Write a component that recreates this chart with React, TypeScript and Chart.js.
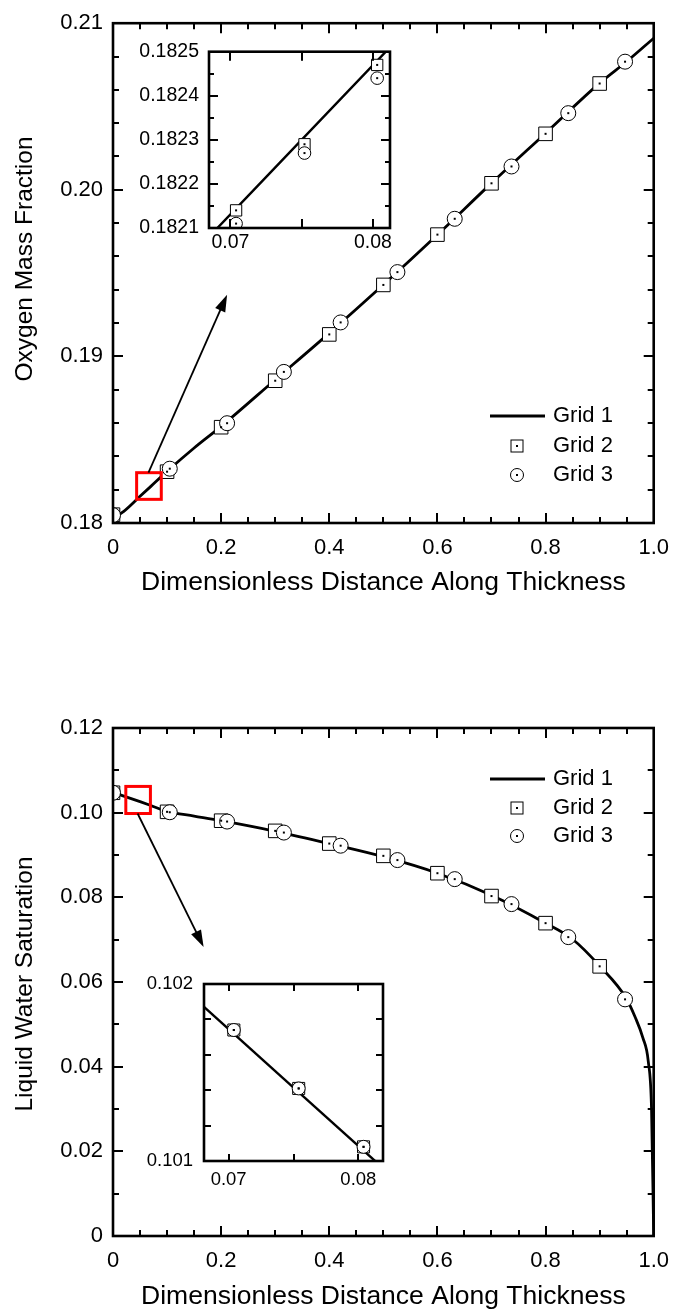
import React, { useEffect, useRef } from 'react';
import { Chart, registerables } from 'chart.js';
Chart.register(...registerables);

const FONT = "'Liberation Sans', Arial, sans-serif";

// ---------------- Data: Oxygen mass fraction (top) ----------------
const o2LineX = [0, 0.02, 0.05, 0.07, 0.1, 0.15, 0.2, 0.3, 0.4, 0.5, 0.6, 0.7, 0.8, 0.9, 0.95, 1.0];
const o2LineY = [0.1803, 0.1807, 0.1816, 0.1822, 0.1831, 0.1845, 0.1858, 0.1886, 0.1914, 0.1943, 0.1973, 0.2004, 0.2034, 0.2064, 0.2077, 0.2091];
const o2Grid2X = [0, 0.1, 0.2, 0.3, 0.4, 0.5, 0.6, 0.7, 0.8, 0.9];
const o2Grid2Y = [0.1805, 0.18308, 0.18575, 0.18854, 0.19132, 0.19429, 0.19731, 0.20039, 0.20336, 0.20638];
const o2Grid3X = [0, 0.105, 0.211, 0.316, 0.421, 0.526, 0.632, 0.737, 0.842, 0.947];
const o2Grid3Y = [0.18047, 0.18326, 0.18599, 0.18907, 0.19204, 0.19506, 0.19826, 0.2014, 0.2046, 0.20769];

// inset (top)
const o2InsetLineX = [0.0685, 0.0812];
const o2InsetLineY = [0.18208, 0.18251];
const o2InsetX = [0.0704, 0.0752, 0.0803];
const o2InsetGrid2Y = [0.18214, 0.18229, 0.18247];
const o2InsetGrid3Y = [0.18211, 0.18227, 0.18244];

// ---------------- Data: Liquid water saturation (bottom) ----------------
const lwLineX = [0, 0.02, 0.05, 0.07, 0.1, 0.15, 0.2, 0.3, 0.4, 0.5, 0.6, 0.7, 0.8, 0.85, 0.9, 0.95, 0.965, 0.98, 0.99, 0.996, 1.0];
const lwLineY = [0.1048, 0.1039, 0.1026, 0.1017, 0.1003, 0.0992, 0.0981, 0.0956, 0.0927, 0.0896, 0.0857, 0.0805, 0.0739, 0.0701, 0.0638, 0.056, 0.0519, 0.0468, 0.0412, 0.03, 0.0];
const lwGrid2X = [0, 0.1, 0.2, 0.3, 0.4, 0.5, 0.6, 0.7, 0.8, 0.9];
const lwGrid2Y = [0.1047, 0.1002, 0.0981, 0.0957, 0.0927, 0.0898, 0.0857, 0.0803, 0.0739, 0.0637];
const lwGrid3X = [0, 0.105, 0.211, 0.316, 0.421, 0.526, 0.632, 0.737, 0.842, 0.947];
const lwGrid3Y = [0.1047, 0.1001, 0.0979, 0.0953, 0.0922, 0.0888, 0.0843, 0.0784, 0.0706, 0.0559];

// inset (bottom)
const lwInsetLineX = [0.0681, 0.0819];
const lwInsetLineY = [0.10187, 0.10096];
const lwInsetX = [0.0704, 0.0754, 0.0804];
const lwInsetGrid2Y = [0.10174, 0.10141, 0.10108];
const lwInsetGrid3Y = [0.10174, 0.10141, 0.10108];

// ---------------- Ticks ----------------
const mainXMajor = [0, 0.2, 0.4, 0.6, 0.8, 1.0];
const mainXLabels = ['0', '0.2', '0.4', '0.6', '0.8', '1.0'];
const mainXMinor = [0.05, 0.1, 0.15, 0.25, 0.3, 0.35, 0.45, 0.5, 0.55, 0.65, 0.7, 0.75, 0.85, 0.9, 0.95];

const o2YMajor = [0.18, 0.19, 0.2, 0.21];
const o2YLabels = ['0.18', '0.19', '0.20', '0.21'];
const o2YMinor = [0.182, 0.184, 0.186, 0.188, 0.192, 0.194, 0.196, 0.198, 0.202, 0.204, 0.206, 0.208];

const lwYMajor = [0, 0.02, 0.04, 0.06, 0.08, 0.1, 0.12];
const lwYLabels = ['0', '0.02', '0.04', '0.06', '0.08', '0.10', '0.12'];
const lwYMinor = [0.01, 0.03, 0.05, 0.07, 0.09, 0.11];

const insetXMajor = [0.07, 0.08];
const insetXLabels = ['0.07', '0.08'];
const insetXMinor = [0.075];

const o2InsetYMajor = [0.1821, 0.1822, 0.1823, 0.1824, 0.1825];
const o2InsetYLabels = ['0.1821', '0.1822', '0.1823', '0.1824', '0.1825'];
const o2InsetYMinor = [0.18215, 0.18225, 0.18235, 0.18245];

const lwInsetYMajor = [0.101, 0.102];
const lwInsetYLabels = ['0.101', '0.102'];
const lwInsetYMinor = [0.1012, 0.1014, 0.1016, 0.1018];

// zoom boxes & arrows (data coordinates of the main plots)
const o2ZoomBox = [0.0437, 0.0893, 0.18142, 0.18302];
const o2Arrow = [0.0656, 0.18302, 0.211, 0.1937];
const lwZoomBox = [0.0237, 0.0692, 0.0998, 0.1062];
const lwArrow = [0.0455, 0.0998, 0.1676, 0.06825];

const seriesNames = ['Grid 1', 'Grid 2', 'Grid 3'];

type Spec = any;

const pts = (xs: number[], ys: number[]) => xs.map((x, i) => ({ x, y: ys[i] }));

const SPECS: Spec[] = [
  {
    left: 0, top: 0, width: 681, height: 610,
    area: { left: 113, top: 17, right: 662, bottom: 523 },
    xMin: 0, xMax: 1, yMin: 0.18, yMax: 0.21,
    xMajor: mainXMajor, xLabels: mainXLabels, xMinor: mainXMinor,
    yMajor: o2YMajor, yLabels: o2YLabels, yMinor: o2YMinor,
    majorLen: 10, minorLen: 6, minorLenX: 6, border: 2.6,
    tickSize: 22, xPad: 12, yPad: 10,
    xTitle: 'Dimensionless Distance Along Thickness', yTitle: 'Oxygen Mass Fraction',
    xTitleSize: 26.5, yTitleSize: 24.5, xTitleCenter: 583, yTitleX: 25, yTitleY: 259,
    line: pts(o2LineX, o2LineY), g2: pts(o2Grid2X, o2Grid2Y), g3: pts(o2Grid3X, o2Grid3Y),
    lineWidth: 2.8, sqR: 9.6, ciR: 7.5,
    legend: { lineX0: 490, lineX1: 545, markX: 517, textX: 553, rows: [416, 446, 475], size: 22 },
    box: o2ZoomBox, arrow: o2Arrow,
  },
  {
    left: 110, top: 30, width: 320, height: 240,
    area: { left: 209, top: 47, right: 390, bottom: 228 },
    xMin: 0.0685, xMax: 0.0812, yMin: 0.1821, yMax: 0.1825,
    xMajor: insetXMajor, xLabels: insetXLabels, xMinor: insetXMinor,
    yMajor: o2InsetYMajor, yLabels: o2InsetYLabels, yMinor: o2InsetYMinor,
    majorLen: 9, minorLen: 5, minorLenX: 9, border: 2.6,
    tickSize: 19.5, xPad: 3, yPad: 10,
    line: pts(o2InsetLineX, o2InsetLineY), g2: pts(o2InsetX, o2InsetGrid2Y), g3: pts(o2InsetX, o2InsetGrid3Y),
    lineWidth: 2.4, sqR: 8, ciR: 6.3, fillArea: true,
  },
  {
    left: 0, top: 620, width: 681, height: 694,
    area: { left: 113, top: 728, right: 662, bottom: 1236 },
    xMin: 0, xMax: 1, yMin: 0, yMax: 0.12,
    xMajor: mainXMajor, xLabels: mainXLabels, xMinor: mainXMinor,
    yMajor: lwYMajor, yLabels: lwYLabels, yMinor: lwYMinor,
    majorLen: 10, minorLen: 6, minorLenX: 6, border: 2.6,
    tickSize: 22, xPad: 12, yPad: 10,
    xTitle: 'Dimensionless Distance Along Thickness', yTitle: 'Liquid Water Saturation',
    xTitleSize: 26.5, yTitleSize: 24.5, xTitleCenter: 1297, yTitleX: 25, yTitleY: 984,
    line: pts(lwLineX, lwLineY), g2: pts(lwGrid2X, lwGrid2Y), g3: pts(lwGrid3X, lwGrid3Y),
    lineWidth: 2.8, sqR: 9.6, ciR: 7.5,
    legend: { lineX0: 490, lineX1: 545, markX: 517, textX: 553, rows: [779, 808, 836], size: 22 },
    box: lwZoomBox, arrow: lwArrow,
  },
  {
    left: 110, top: 960, width: 300, height: 240,
    area: { left: 204, top: 984, right: 383, bottom: 1161 },
    xMin: 0.0681, xMax: 0.0819, yMin: 0.101, yMax: 0.102,
    xMajor: insetXMajor, xLabels: insetXLabels, xMinor: insetXMinor,
    yMajor: lwInsetYMajor, yLabels: lwInsetYLabels, yMinor: lwInsetYMinor,
    majorLen: 7, minorLen: 7, minorLenX: 7, border: 2.6,
    tickSize: 18.5, xPad: 8, yPad: 11,
    line: pts(lwInsetLineX, lwInsetLineY), g2: pts(lwInsetX, lwInsetGrid2Y), g3: pts(lwInsetX, lwInsetGrid3Y),
    lineWidth: 2.4, sqR: 8.5, ciR: 6.5, fillArea: true,
  },
];

function buildChart(canvas: HTMLCanvasElement, s: Spec): Chart {
  const padTop = s.area.top - s.top;
  const padRight = s.left + s.width - s.area.right;
  const yW = s.area.left - s.left;
  const xH = s.top + s.height - s.area.bottom;
  const xTitlePadBottom = s.xTitle ? (s.top + s.height - s.xTitleCenter) - (s.xTitleSize * 1.2) / 2 : 0;

  const decor = {
    id: 'decor',
    beforeDraw(chart: any) {
      if (!s.fillArea) return;
      const { ctx, chartArea: a } = chart;
      ctx.save();
      ctx.fillStyle = '#fff';
      ctx.fillRect(a.left, a.top, a.right - a.left, a.bottom - a.top);
      ctx.restore();
    },
    afterDatasetsDraw(chart: any) {
      const { ctx, chartArea: a } = chart;
      ctx.save();
      ctx.beginPath();
      ctx.rect(a.left, a.top, a.right - a.left, a.bottom - a.top);
      ctx.clip();
      ctx.fillStyle = '#000';
      [1, 2].forEach((di) => {
        chart.getDatasetMeta(di).data.forEach((p: any) => {
          ctx.fillRect(p.x - 1, p.y - 1, 2, 2);
        });
      });
      ctx.restore();
    },
    afterDraw(chart: any) {
      const { ctx, chartArea: a } = chart;
      const xs = chart.scales.x;
      const ys = chart.scales.y;
      ctx.save();
      // ticks (inward, all sides)
      ctx.strokeStyle = '#000';
      ctx.lineWidth = 2;
      const tx = (v: number, len: number) => {
        const p = Math.round(xs.getPixelForValue(v));
        ctx.beginPath();
        ctx.moveTo(p, a.bottom); ctx.lineTo(p, a.bottom - len);
        ctx.moveTo(p, a.top); ctx.lineTo(p, a.top + len);
        ctx.stroke();
      };
      const ty = (v: number, len: number) => {
        const p = Math.round(ys.getPixelForValue(v));
        ctx.beginPath();
        ctx.moveTo(a.left, p); ctx.lineTo(a.left + len, p);
        ctx.moveTo(a.right, p); ctx.lineTo(a.right - len, p);
        ctx.stroke();
      };
      s.xMajor.forEach((v: number) => tx(v, s.majorLen));
      s.xMinor.forEach((v: number) => tx(v, s.minorLenX));
      s.yMajor.forEach((v: number) => ty(v, s.majorLen));
      s.yMinor.forEach((v: number) => ty(v, s.minorLen));
      // frame
      ctx.lineWidth = s.border;
      ctx.strokeRect(a.left, a.top, a.right - a.left, a.bottom - a.top);

      // y title (rotated text)
      if (s.yTitle) {
        ctx.save();
        ctx.translate(s.yTitleX - s.left, s.yTitleY - s.top);
        ctx.rotate(-Math.PI / 2);
        ctx.fillStyle = '#000';
        ctx.font = `${s.yTitleSize}px ${FONT}`;
        ctx.textAlign = 'center';
        ctx.textBaseline = 'middle';
        ctx.fillText(s.yTitle, 0, 0);
        ctx.restore();
      }

      // zoom box
      if (s.box) {
        const [bx0, bx1, by0, by1] = s.box;
        const px0 = xs.getPixelForValue(bx0), px1 = xs.getPixelForValue(bx1);
        const py0 = ys.getPixelForValue(by0), py1 = ys.getPixelForValue(by1);
        ctx.strokeStyle = '#ff0000';
        ctx.lineWidth = 3;
        ctx.strokeRect(px0, py1, px1 - px0, py0 - py1);
      }
      // arrow
      if (s.arrow) {
        const [ax0, ay0, ax1, ay1] = s.arrow;
        const x0 = xs.getPixelForValue(ax0), y0 = ys.getPixelForValue(ay0);
        const x1 = xs.getPixelForValue(ax1), y1 = ys.getPixelForValue(ay1);
        const ang = Math.atan2(y1 - y0, x1 - x0);
        const L = 17, W = 11;
        const c = Math.cos(ang), sn = Math.sin(ang);
        ctx.strokeStyle = '#000';
        ctx.fillStyle = '#000';
        ctx.lineWidth = 1.8;
        ctx.beginPath();
        ctx.moveTo(x0, y0);
        ctx.lineTo(x1 - c * L * 0.8, y1 - sn * L * 0.8);
        ctx.stroke();
        ctx.beginPath();
        ctx.moveTo(x1, y1);
        ctx.lineTo(x1 - c * L - sn * W / 2, y1 - sn * L + c * W / 2);
        ctx.lineTo(x1 - c * L + sn * W / 2, y1 - sn * L - c * W / 2);
        ctx.closePath();
        ctx.fill();
      }
      // legend
      if (s.legend) {
        const L = s.legend;
        const ox = s.left, oy = s.top;
        ctx.fillStyle = '#000';
        ctx.strokeStyle = '#000';
        ctx.font = `${L.size}px ${FONT}`;
        ctx.textBaseline = 'middle';
        ctx.textAlign = 'left';
        const names = chart.data.datasets.map((d: any) => d.label);
        ctx.lineWidth = 2.8;
        ctx.beginPath();
        ctx.moveTo(L.lineX0 - ox, L.rows[0] - oy);
        ctx.lineTo(L.lineX1 - ox, L.rows[0] - oy);
        ctx.stroke();
        ctx.lineWidth = 1;
        const mx = L.markX - ox;
        const y2 = L.rows[1] - oy;
        ctx.strokeRect(mx - 6, y2 - 6, 12, 12);
        ctx.fillRect(mx - 1, y2 - 1, 2, 2);
        const y3 = L.rows[2] - oy;
        ctx.beginPath();
        ctx.arc(mx, y3, 6.5, 0, Math.PI * 2);
        ctx.stroke();
        ctx.fillRect(mx - 1, y3 - 1, 2, 2);
        names.forEach((n: string, i: number) => {
          ctx.fillText(n, L.textX - ox, L.rows[i] - oy);
        });
      }
      ctx.restore();
    },
  };

  return new Chart(canvas, {
    type: 'scatter',
    data: {
      datasets: [
        {
          label: seriesNames[0], data: s.line, showLine: true, pointRadius: 0,
          borderColor: '#000', borderWidth: s.lineWidth, cubicInterpolationMode: 'monotone',
          fill: false, clip: 0, order: 3,
        } as any,
        {
          label: seriesNames[1], data: s.g2, showLine: false, pointStyle: 'rect', pointRadius: s.sqR,
          pointBackgroundColor: '#fff', pointBorderColor: '#000', pointBorderWidth: 1,
          backgroundColor: '#fff', borderColor: '#000', clip: 0, order: 2,
        } as any,
        {
          label: seriesNames[2], data: s.g3, showLine: false, pointStyle: 'circle', pointRadius: s.ciR,
          pointBackgroundColor: '#fff', pointBorderColor: '#000', pointBorderWidth: 1,
          backgroundColor: '#fff', borderColor: '#000', clip: 0, order: 1,
        } as any,
      ],
    },
    options: {
      responsive: false,
      animation: false,
      devicePixelRatio: 1,
      events: [],
      layout: { padding: { top: padTop, right: padRight, left: 0, bottom: 0 } },
      plugins: { legend: { display: false }, tooltip: { enabled: false } },
      scales: {
        x: {
          type: 'linear', position: 'bottom', min: s.xMin, max: s.xMax,
          afterBuildTicks: (sc: any) => { sc.ticks = s.xMajor.map((v: number) => ({ value: v })); },
          afterFit: (sc: any) => { sc.height = xH; },
          ticks: {
            autoSkip: false, maxRotation: 0, minRotation: 0, padding: s.xPad, color: '#000',
            font: { family: FONT, size: s.tickSize },
            callback: (_v: any, i: number) => s.xLabels[i],
          },
          grid: { display: false, drawTicks: false },
          border: { display: false },
          title: s.xTitle
            ? { display: true, text: s.xTitle, color: '#000', font: { family: FONT, size: s.xTitleSize }, padding: { top: 0, bottom: xTitlePadBottom } }
            : { display: false },
        },
        y: {
          type: 'linear', position: 'left', min: s.yMin, max: s.yMax,
          afterBuildTicks: (sc: any) => { sc.ticks = s.yMajor.map((v: number) => ({ value: v })); },
          afterFit: (sc: any) => { sc.width = yW; },
          ticks: {
            autoSkip: false, padding: s.yPad, color: '#000',
            font: { family: FONT, size: s.tickSize },
            callback: (_v: any, i: number) => s.yLabels[i],
          },
          grid: { display: false, drawTicks: false },
          border: { display: false },
          title: { display: false },
        },
      },
    } as any,
    plugins: [decor],
  });
}

export default function App() {
  const refs = useRef<(HTMLCanvasElement | null)[]>([]);
  useEffect(() => {
    const charts = SPECS.map((s, i) => buildChart(refs.current[i] as HTMLCanvasElement, s));
    return () => charts.forEach((c) => c.destroy());
  }, []);
  return (
    <div style={{ position: 'absolute', left: 0, top: 0, width: 681, height: 1314, background: '#fff', overflow: 'hidden' }}>
      {SPECS.map((s, i) => (
        <canvas
          key={i}
          ref={(el) => { refs.current[i] = el; }}
          width={s.width}
          height={s.height}
          style={{ position: 'absolute', left: s.left, top: s.top, width: s.width, height: s.height }}
        />
      ))}
    </div>
  );
}
